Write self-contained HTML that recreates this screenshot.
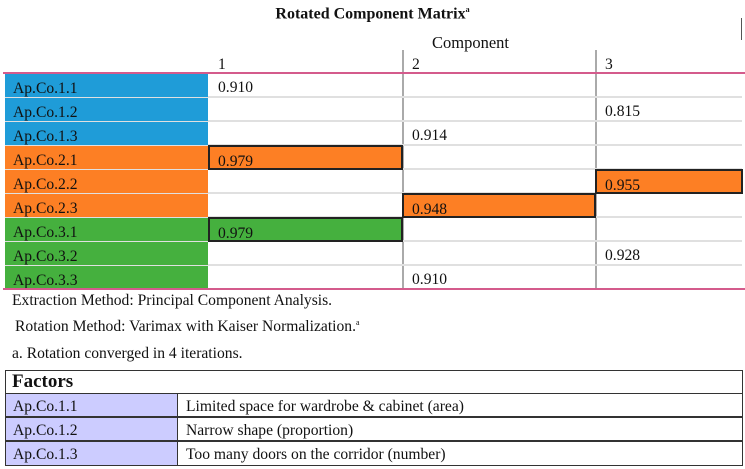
<!DOCTYPE html>
<html><head><meta charset="utf-8"><style>
body{margin:0;width:745px;height:469px;background:#fff;position:relative;overflow:hidden;font-family:"Liberation Serif",serif;color:#111}
.a{position:absolute;box-sizing:border-box}
.t{font-size:15.6px;white-space:nowrap}
</style></head><body>
<div class="a t" style="left:0;width:745px;top:5px;text-align:center;font-weight:bold;font-size:16px">Rotated Component Matrix<sup style="font-size:8px">a</sup></div>
<div class="a t" style="left:432px;top:33px;font-size:16.5px">Component</div>
<div class="a" style="left:741px;top:18px;width:1px;height:22px;background:#555"></div>
<div id="m"></div>
<div class="a t" style="left:12px;top:292px">Extraction Method: Principal Component Analysis.</div>
<div class="a t" style="left:15px;top:318px">Rotation Method: Varimax with Kaiser Normalization.<sup style="font-size:8px">a</sup></div>
<div class="a t" style="left:12px;top:345px">a. Rotation converged in 4 iterations.</div>
<div id="f"></div>
<script>
const items=["Ap.Co.1.1","Ap.Co.1.2","Ap.Co.1.3","Ap.Co.2.1","Ap.Co.2.2","Ap.Co.2.3","Ap.Co.3.1","Ap.Co.3.2","Ap.Co.3.3"];
const groups=[1,1,1,2,2,2,3,3,3];
const loadingComp=[1,3,2,1,3,2,1,3,2];
const loadingVal=["0.910","0.815","0.914","0.979","0.955","0.948","0.979","0.928","0.910"];
const highlighted=[0,0,0,1,1,1,1,0,0];
const compLabels=["1","2","3"];
const factorNames=["Ap.Co.1.1","Ap.Co.1.2","Ap.Co.1.3"];
const factorDesc=["Limited space for wardrobe & cabinet (area)","Narrow shape (proportion)","Too many doors on the corridor (number)"];
const colors={1:"#1f9cd8",2:"#fd7f24",3:"#45b03e"};
const colX=[208,402,595,742],top0=73,rh=24,m=document.getElementById('m');
function box(css,txt){const d=document.createElement('div');d.className='a t';d.style.cssText=css;if(txt!==undefined)d.textContent=txt;m.appendChild(d);return d;}
compLabels.forEach((c,i)=>{const d=box(`left:${colX[i]+10}px;top:56px`,c);

});
const bottom=top0+rh*items.length;
[402,595].forEach((x,i)=>{const d=box(`left:${x}px;top:50px;width:2px;height:${bottom-50}px;background:#aaa`);

});
items.forEach((it,r)=>{const y=top0+r*rh;
const sep=box(`left:5px;top:${y+rh-1}px;width:737px;height:2px;background:#e0e0e0`);


const l=box(`left:5px;top:${y+1}px;width:203px;height:${rh-1}px;background:${colors[groups[r]]};padding:6px 0 0 8px`,it);


const c=loadingComp[r]-1,hl=highlighted[r];
const v=box(`left:${colX[c]}px;top:${y+(hl?0:1)}px;width:${colX[c+1]-colX[c]+(hl?1:0)}px;height:${rh+(hl?1:-1)}px;padding:${hl?6:5}px 0 0 ${hl?8:10}px;${hl?'background:'+colors[groups[r]]+';border:2px solid #222;':''}`,loadingVal[r]);

});
[73,bottom].forEach(y=>{const d=box(`left:3px;top:${y-1}px;width:742px;height:2px;background:#d45b8c`);

});
const f=document.getElementById('f');
function fb(css,txt){const d=document.createElement('div');d.className='a t';d.style.cssText=css;if(txt!==undefined)d.textContent=txt;f.appendChild(d);return d;}
const outer=fb('left:5px;top:370px;width:738px;height:96px;border:1.5px solid #333');


const h=fb('left:12px;top:371px;font-size:19px;font-weight:bold','Factors');


factorNames.forEach((n,i)=>{const y=393+i*24;
const a=fb(`left:5px;top:${y}px;width:173px;height:${i==2?25:24}px;background:#ccccff;border:1.5px solid #333;padding:4px 0 0 7px`,n);


const b=fb(`left:177px;top:${y}px;width:566px;height:${i==2?25:24}px;border:1.5px solid #333;padding:4px 0 0 8px`,factorDesc[i]);

});
</script>
</body></html>
